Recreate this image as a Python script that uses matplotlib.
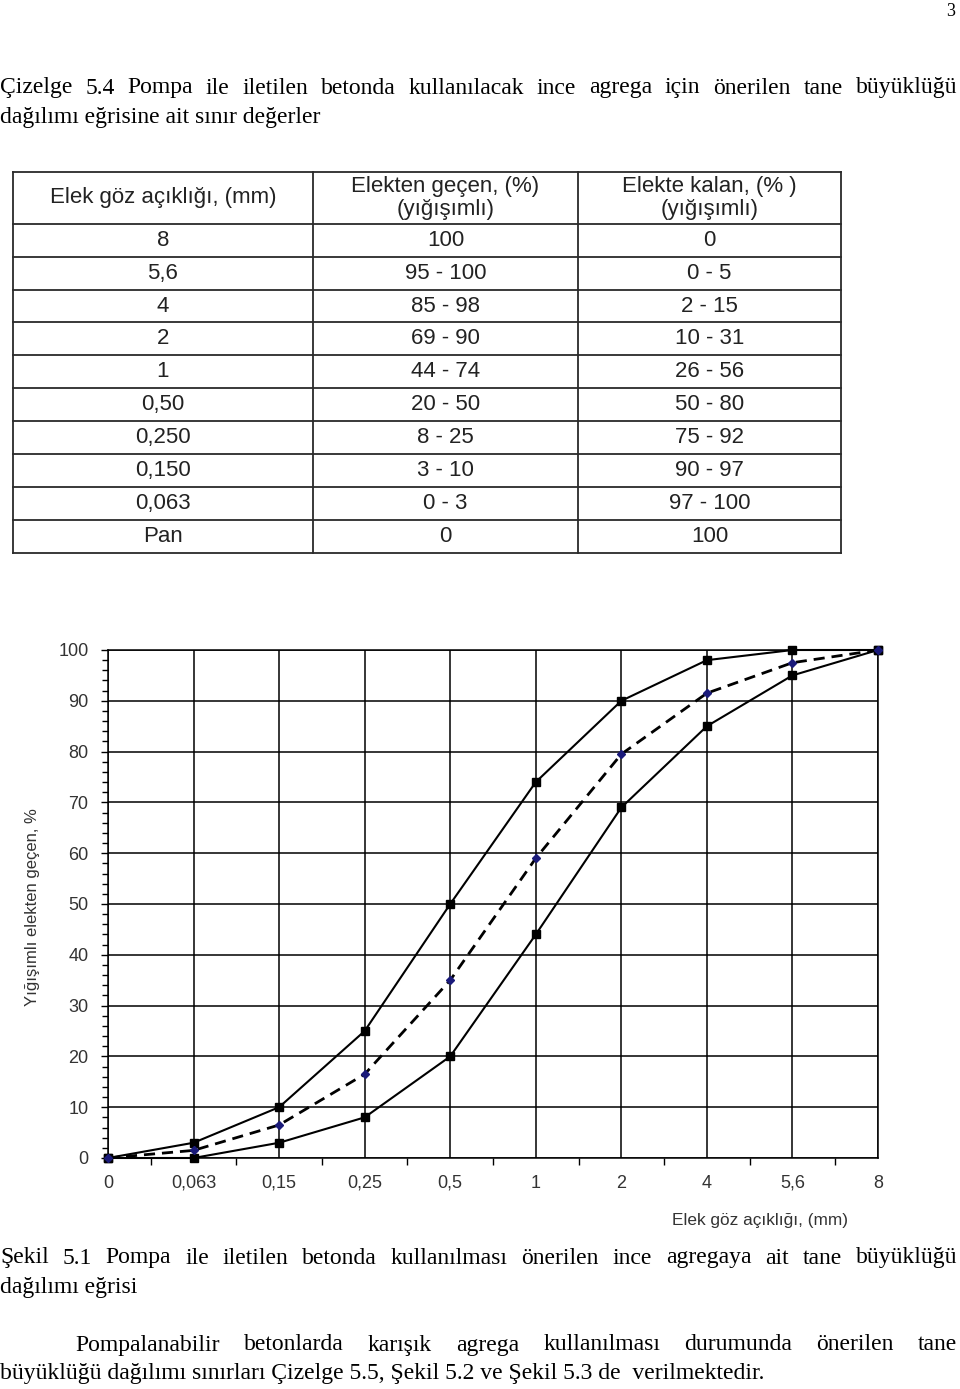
import matplotlib.pyplot as plt
from matplotlib.ticker import MultipleLocator, FixedLocator

# table data
sieve_sizes = ["8", "5,6", "4", "2", "1", "0,50", "0,250", "0,150", "0,063", "Pan"]
passing = ["100", "95 - 100", "85 - 98", "69 - 90", "44 - 74", "20 - 50", "8 - 25", "3 - 10", "0 - 3", "0"]
retained = ["0", "0 - 5", "2 - 15", "10 - 31", "26 - 56", "50 - 80", "75 - 92", "90 - 97", "97 - 100", "100"]
headers = ["Elek göz açıklığı, (mm)", "Elekten geçen, (%)\n(yığışımlı)", "Elekte kalan, (% )\n(yığışımlı)"]

# chart data
x_labels = ["0", "0,063", "0,15", "0,25", "0,5", "1", "2", "4", "5,6", "8"]
upper = [0, 3, 10, 25, 50, 74, 90, 98, 100, 100]
lower = [0, 0, 3, 8, 20, 44, 69, 85, 95, 100]
middle = [0, 1.5, 6.5, 16.5, 35, 59, 79.5, 91.5, 97.5, 100]

serif = "Liberation Serif"
sans = "Liberation Sans"

fig = plt.figure(figsize=(9.6, 13.89), dpi=100)
page = fig.add_axes([0, 0, 1, 1])
page.set_xlim(0, 960)
page.set_ylim(1389, 0)
page.axis("off")
renderer = fig.canvas.get_renderer()


def justify(words, y, x0, x1, size):
    items = [page.text(0, y, w, fontsize=size, family=serif, va="center", ha="left")
             for w in words.split()]
    widths = [t.get_window_extent(renderer).width for t in items]
    gap = (x1 - x0 - sum(widths)) / (len(items) - 1)
    x = x0
    for t, w in zip(items, widths):
        t.set_x(x)
        x += w + gap


def plain(words, y, x0, size):
    page.text(x0, y, words, fontsize=size, family=serif, va="center", ha="left")


fs = 17
page.text(955, 12, "3", fontsize=13, family=serif, ha="right", va="center")
justify("Çizelge 5.4 Pompa ile iletilen betonda kullanılacak ince agrega için önerilen tane büyüklüğü",
        88, 0, 957, fs)
plain("dağılımı eğrisine ait sınır değerler", 117, 0, fs)

# table
col_edges = [13, 313, 578, 841]
row_edges = [172, 224, 257, 290, 322, 355, 388, 421, 454, 487, 520, 553]
lc = "#2a2a2a"
for yy in row_edges:
    page.plot([col_edges[0], col_edges[-1]], [yy, yy], color=lc, lw=1.3)
for xx in col_edges:
    page.plot([xx, xx], [row_edges[0], row_edges[-1]], color=lc, lw=1.3)
centers = [(col_edges[i] + col_edges[i + 1]) / 2 for i in range(3)]
hy = (row_edges[0] + row_edges[1]) / 2
for cx, h in zip(centers, headers):
    page.text(cx, hy, h, fontsize=16, family=sans, ha="center", va="center",
              color="#222222", linespacing=1.1)
for i, row in enumerate(zip(sieve_sizes, passing, retained)):
    cy = (row_edges[i + 1] + row_edges[i + 2]) / 2
    for cx, val in zip(centers, row):
        page.text(cx, cy, val, fontsize=16, family=sans, ha="center", va="center",
                  color="#222222")

# chart
ax = fig.add_axes([108 / 960, 1 - 1158 / 1389, 770 / 960, 508 / 1389])
xs = list(range(len(x_labels)))
ax.plot(xs, upper, color="black", lw=1.5, marker="s", ms=5.5, clip_on=False, zorder=3)
ax.plot(xs, lower, color="black", lw=1.5, marker="s", ms=5.5, clip_on=False, zorder=3)
ax.plot(xs, middle, color="black", lw=2, ls=(0, (4, 2.5)), marker="D", ms=4,
        mfc="#1a1a7a", mec="#1a1a7a", clip_on=False, zorder=3)
ax.set_xlim(0, len(x_labels) - 1)
ax.set_ylim(0, 100)
ax.set_xticks(xs)
ax.set_xticklabels(x_labels)
ax.xaxis.set_minor_locator(FixedLocator([i + 0.5 for i in xs[:-1]]))
ax.yaxis.set_major_locator(MultipleLocator(10))
ax.yaxis.set_minor_locator(MultipleLocator(2))
ax.grid(True, which="major", color="black", lw=1.1)
for s in ax.spines.values():
    s.set_color("black")
    s.set_linewidth(1.1)
ax.tick_params(axis="x", which="major", length=0, pad=12, labelsize=13, labelcolor="#333333")
ax.tick_params(axis="x", which="minor", length=5, width=1, direction="out")
ax.tick_params(axis="y", which="major", length=5, width=1, pad=9, labelsize=13, labelcolor="#333333")
ax.tick_params(axis="y", which="minor", length=4, width=1)
for lab in ax.get_xticklabels() + ax.get_yticklabels():
    lab.set_family(sans)
page.text(33, 907, "Yığışımlı elekten geçen, %", fontsize=12, family=sans, rotation=90,
          ha="center", va="center", color="#333333")
page.text(848, 1221, "Elek göz açıklığı, (mm)", fontsize=12.4, family=sans, ha="right",
          va="center", color="#333333")

justify("Şekil 5.1 Pompa ile iletilen betonda kullanılması önerilen ince agregaya ait tane büyüklüğü",
        1258, 0, 957, fs)
plain("dağılımı eğrisi", 1287, 0, fs)
justify("Pompalanabilir betonlarda karışık agrega kullanılması durumunda önerilen tane",
        1345, 75, 957, fs)
plain("büyüklüğü dağılımı sınırları Çizelge 5.5, Şekil 5.2 ve Şekil 5.3 de  verilmektedir.",
      1374, 0, fs)

fig.savefig("out.png", dpi=100)
